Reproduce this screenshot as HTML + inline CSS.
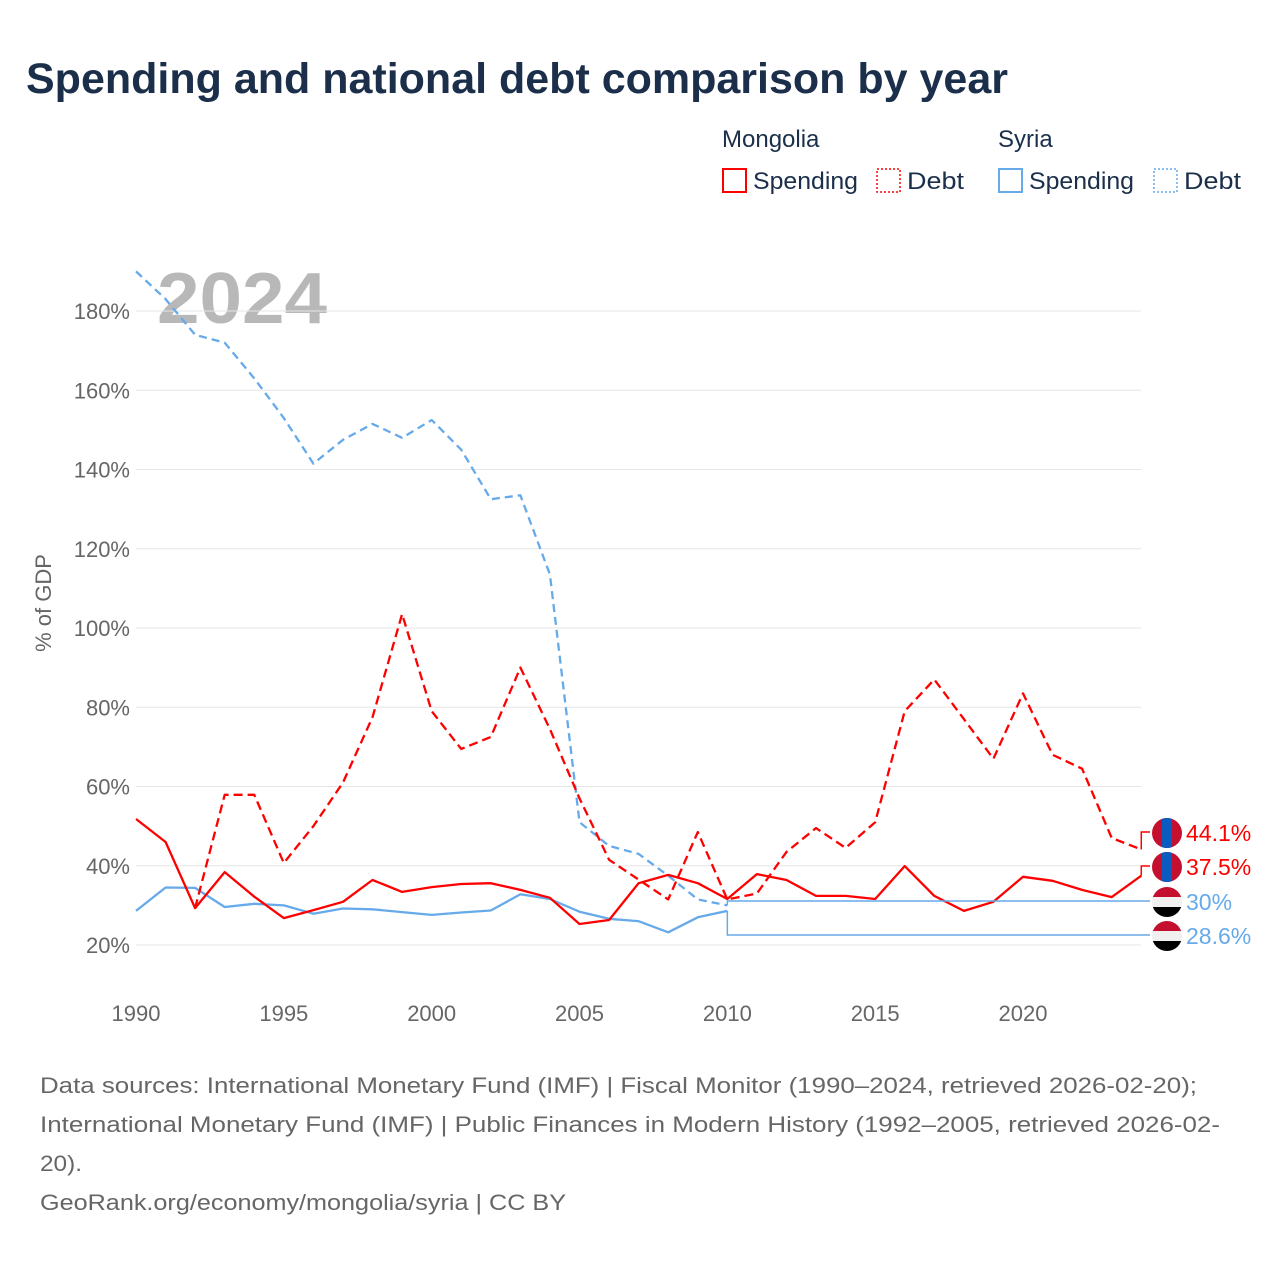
<!DOCTYPE html>
<html><head><meta charset="utf-8"><style>
body{margin:0;background:#fff;font-family:"Liberation Sans",sans-serif;}
svg text{font-family:"Liberation Sans",sans-serif;}
</style></head><body>
<svg id="c" width="1280" height="1280" xmlns="http://www.w3.org/2000/svg">
<text x="26" y="93" font-size="43" font-weight="bold" fill="#1b2f4b" textLength="982" lengthAdjust="spacingAndGlyphs">Spending and national debt comparison by year</text>
<g font-size="24" fill="#1b2f4b">
<text x="722" y="147">Mongolia</text>
<text x="998" y="147">Syria</text>
<rect x="723" y="169" width="23" height="23" fill="none" stroke="#f00" stroke-width="2"/>
<text x="753" y="189" textLength="105" lengthAdjust="spacingAndGlyphs">Spending</text>
<rect x="877" y="169" width="23" height="23" fill="none" stroke="#f00" stroke-width="1.5" stroke-dasharray="2,2"/>
<text x="907" y="189" textLength="57" lengthAdjust="spacingAndGlyphs">Debt</text>
<rect x="999" y="169" width="23" height="23" fill="none" stroke="#66aaea" stroke-width="2"/>
<text x="1029" y="189" textLength="105" lengthAdjust="spacingAndGlyphs">Spending</text>
<rect x="1154" y="169" width="23" height="23" fill="none" stroke="#66aaea" stroke-width="1.5" stroke-dasharray="2,2"/>
<text x="1184" y="189" textLength="57" lengthAdjust="spacingAndGlyphs">Debt</text>
</g>
<text x="157" y="323" font-size="72" font-weight="bold" fill="#b8b8b8" textLength="170" lengthAdjust="spacingAndGlyphs">2024</text>
<text transform="translate(51,603) rotate(-90)" text-anchor="middle" font-size="22" fill="#666">% of GDP</text>
<g id="grid"></g><g id="marks"></g><g id="labels"></g>
<g font-size="22" fill="#666">
<text x="40" y="1093" textLength="1157" lengthAdjust="spacingAndGlyphs">Data sources: International Monetary Fund (IMF) | Fiscal Monitor (1990–2024, retrieved 2026-02-20);</text>
<text x="40" y="1132" textLength="1180" lengthAdjust="spacingAndGlyphs">International Monetary Fund (IMF) | Public Finances in Modern History (1992–2005, retrieved 2026-02-</text>
<text x="40" y="1171" textLength="42" lengthAdjust="spacingAndGlyphs">20).</text>
<text x="40" y="1210" textLength="526" lengthAdjust="spacingAndGlyphs">GeoRank.org/economy/mongolia/syria | CC BY</text>
</g>
</svg>
<script>
const yTicks=[20,40,60,80,100,120,140,160,180];
const xTicks=[1990,1995,2000,2005,2010,2015,2020];
const mnSpendYears=[1990,1991,1992,1993,1994,1995,1996,1997,1998,1999,2000,2001,2002,2003,2004,2005,2006,2007,2008,2009,2010,2011,2012,2013,2014,2015,2016,2017,2018,2019,2020,2021,2022,2023,2024];
const mnSpend=[51.8,46,29.3,38.4,32.2,26.8,28.8,30.9,36.4,33.4,34.6,35.4,35.6,33.9,31.9,25.3,26.3,35.6,37.7,35.6,31.6,37.9,36.4,32.4,32.4,31.6,39.9,32.4,28.6,30.9,37.2,36.2,33.9,32.1,37.5];
const mnDebtYears=[1992,1993,1994,1995,1996,1997,1998,1999,2000,2001,2002,2003,2004,2005,2006,2007,2008,2009,2010,2011,2012,2013,2014,2015,2016,2017,2018,2019,2020,2021,2022,2023,2024];
const mnDebt=[29.3,57.9,57.9,40.7,50,61,77.5,103.5,79,69.5,72.5,90,74.5,57,41.5,36.5,31.5,48.5,31.5,33,43.5,49.5,44.5,51,79,87,77,67,83.5,68,64.5,47,44.1];
const syYears=[1990,1991,1992,1993,1994,1995,1996,1997,1998,1999,2000,2001,2002,2003,2004,2005,2006,2007,2008,2009,2010];
const sySpend=[28.6,34.5,34.4,29.6,30.4,30.0,27.9,29.2,29.0,28.3,27.6,28.2,28.7,32.8,31.6,28.4,26.6,26.0,23.2,27,28.6];
const syDebt=[190,183,174,172,163,153,141.5,147.5,151.5,148,152.5,145,132.5,133.5,113.5,51,45,43,37.5,31.5,30];
const NS='http://www.w3.org/2000/svg';
const X=yr=>136+(yr-1990)*29.567;
const Y=v=>945-(v-20)*3.9625;
function mk(t,a,p){const e=document.createElementNS(NS,t);for(const k in a)e.setAttribute(k,a[k]);p.appendChild(e);return e;}
const grid=document.getElementById('grid'),marks=document.getElementById('marks'),labels=document.getElementById('labels');
yTicks.forEach(v=>{
 const l=mk('line',{x1:136,x2:1141,y1:Y(v),y2:Y(v),stroke:'#e6e6e6','stroke-width':1},grid);
 
 
 const t=mk('text',{x:130,y:Y(v)+8,'text-anchor':'end','font-size':22,fill:'#666'},grid);
 t.textContent=v+'%';
 
 
});
xTicks.forEach(yr=>{
 const t=mk('text',{x:X(yr),y:1021,'text-anchor':'middle','font-size':22,fill:'#666'},grid);
 t.textContent=yr;
 
 
});
function line(years,vals,color,dash,name){
 const d=years.map((yr,i)=>(i?'L':'M')+X(yr).toFixed(1)+','+Y(vals[i]).toFixed(1)).join('');
 const p=mk('path',{d:d,fill:'none',stroke:color,'stroke-width':2.3,'stroke-dasharray':dash,'stroke-linejoin':'round'},marks);
 
 
}
line(syYears,syDebt,'#66aaea','8,5','syria-debt-line');
line(syYears,sySpend,'#66aaea','none','syria-spending-line');
line(mnDebtYears,mnDebt,'#f00','9,5','mongolia-debt-line');
line(mnSpendYears,mnSpend,'#f00','none','mongolia-spending-line');
const ends=[
 {yr:2024,v:mnDebt[mnDebt.length-1],ly:832,c:'#f00',mn:true,n:'mongolia-debt-end-label'},
 {yr:2024,v:mnSpend[mnSpend.length-1],ly:866,c:'#f00',mn:true,n:'mongolia-spending-end-label'},
 {yr:2010,v:syDebt[syDebt.length-1],ly:901,c:'#66aaea',mn:false,n:'syria-debt-end-label'},
 {yr:2010,v:sySpend[sySpend.length-1],ly:935,c:'#66aaea',mn:false,n:'syria-spending-end-label'}];
ends.forEach(e=>{
 const x0=X(e.yr),y0=Y(e.v);
 const p=mk('path',{d:`M${x0},${y0}L${x0},${e.ly}L1150,${e.ly}`,fill:'none',stroke:e.c,'stroke-width':1.5},labels);
 
 
 const g=mk('g',{},labels);
 
 
 const cx=1167,cy=e.ly+1,r=15;
 const cid='cp'+e.ly;
 const cp=mk('clipPath',{id:cid},g);mk('circle',{cx:cx,cy:cy,r:r},cp);
 const gg=mk('g',{'clip-path':`url(#${cid})`},g);
 if(e.mn){mk('rect',{x:cx-r,y:cy-r,width:30,height:30,fill:'#c4102e'},gg);mk('rect',{x:cx-5,y:cy-r,width:10,height:30,fill:'#0b5cc0'},gg);}
 else{mk('rect',{x:cx-r,y:cy-r,width:30,height:10,fill:'#c4102e'},gg);mk('rect',{x:cx-r,y:cy-5,width:30,height:10,fill:'#f0f0f0'},gg);mk('rect',{x:cx-r,y:cy+5,width:30,height:10,fill:'#000'},gg);}
 const t=mk('text',{x:1186,y:e.ly+9,'font-size':23,fill:e.c},labels);
 t.textContent=(Math.round(e.v*10)/10)+'%';
 
 
});
</script>
</body></html>
